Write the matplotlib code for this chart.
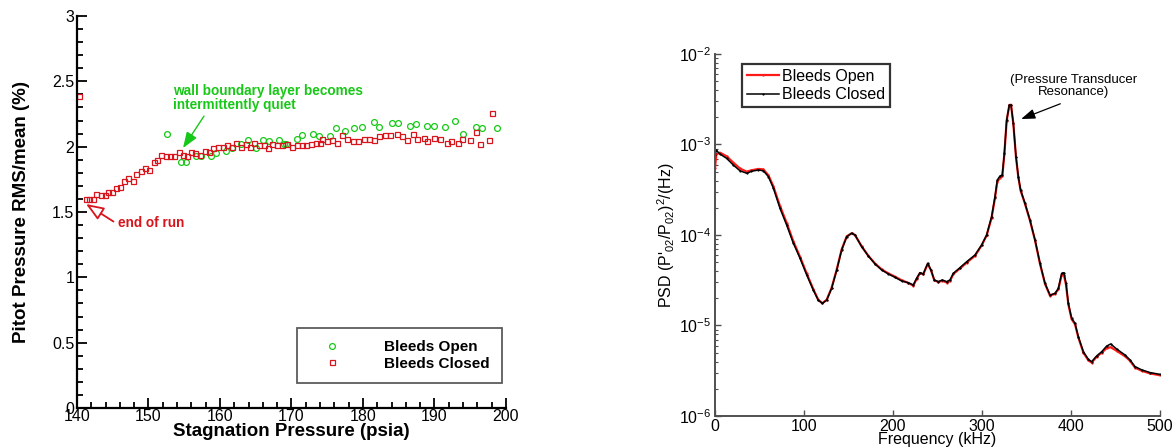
import numpy as np
import matplotlib
matplotlib.use("Agg")
import matplotlib.pyplot as plt
from matplotlib.ticker import MultipleLocator, FuncFormatter, LogLocator, NullFormatter

plt.rcParams['font.family'] = ['Liberation Sans', 'DejaVu Sans']
plt.rcParams['mathtext.fontset'] = 'custom'
plt.rcParams['mathtext.rm'] = 'Liberation Sans'
plt.rcParams['mathtext.it'] = 'Liberation Sans:italic'
plt.rcParams['mathtext.bf'] = 'Liberation Sans:bold'

# ---------------- Left chart data ----------------
closed_p = [140.3, 141.2, 141.7, 142.3, 142.7, 143.4, 143.9, 144.4, 144.9, 145.4, 146.0, 146.6,
            147.2, 147.8, 148.3, 148.9, 149.5, 150.1, 150.7, 151.2, 151.8, 152.4, 153.0, 153.6,
            154.2, 154.8, 155.4, 156.0, 156.5, 157.2, 157.9, 158.5, 159.0, 159.7, 160.4, 161.0,
            161.7, 162.3, 162.9, 163.6, 164.2, 164.8, 165.5, 166.1, 166.7, 167.3, 168.0, 168.7,
            169.4, 170.1, 170.7, 171.4, 172.0, 172.7, 173.4, 174.0, 174.3, 175.0, 175.7, 176.4,
            177.1, 177.7, 178.6, 179.3, 180.1, 180.8, 181.6, 182.3, 183.1, 183.8, 184.7, 185.5,
            186.2, 187.0, 187.6, 188.5, 189.0, 190.0, 190.7, 191.7, 192.3, 193.3, 193.9, 194.9,
            195.8, 196.4, 197.6, 198.0]
closed_rms = [2.39, 1.60, 1.60, 1.60, 1.64, 1.63, 1.63, 1.65, 1.65, 1.68, 1.69, 1.74,
              1.76, 1.74, 1.79, 1.81, 1.84, 1.82, 1.88, 1.90, 1.94, 1.93, 1.93, 1.93,
              1.96, 1.94, 1.93, 1.96, 1.95, 1.94, 1.97, 1.96, 1.99, 2.00, 2.00, 2.01,
              2.00, 2.03, 2.00, 2.02, 2.00, 2.03, 2.01, 2.01, 1.99, 2.02, 2.01, 2.01,
              2.02, 2.00, 2.01, 2.01, 2.01, 2.02, 2.03, 2.03, 2.06, 2.04, 2.05, 2.03,
              2.09, 2.06, 2.04, 2.04, 2.06, 2.06, 2.05, 2.08, 2.09, 2.09, 2.10, 2.08,
              2.05, 2.10, 2.06, 2.07, 2.04, 2.07, 2.06, 2.03, 2.04, 2.03, 2.06, 2.05,
              2.11, 2.02, 2.05, 2.26]

open_p = [152.6, 154.6, 155.2, 156.7, 157.3, 158.7, 159.5, 160.9, 161.7, 162.9, 163.9, 165.0,
          166.0, 166.9, 168.3, 169.0, 169.3, 170.7, 171.4, 173.0, 173.8, 175.4, 176.2, 177.5,
          178.7, 179.9, 181.5, 182.3, 184.1, 184.9, 186.6, 187.4, 189.0, 189.9, 191.5, 192.8,
          194.0, 195.8, 196.7, 198.7]
open_rms = [2.10, 1.88, 1.88, 1.93, 1.93, 1.93, 1.95, 1.97, 1.99, 2.02, 2.05, 1.99,
            2.05, 2.04, 2.05, 2.02, 2.02, 2.06, 2.09, 2.10, 2.08, 2.08, 2.14, 2.12,
            2.14, 2.15, 2.19, 2.15, 2.18, 2.18, 2.16, 2.17, 2.16, 2.16, 2.15, 2.20,
            2.10, 2.15, 2.14, 2.14]

# ---------------- Right chart data ----------------
freq_khz = [0, 1.5, 5.6, 13, 20.6, 28, 35.6, 41, 48.7, 54.3, 60, 65.5, 73, 80.5, 88, 95.5,
            103, 110.5, 116, 120.6, 125.5, 131, 136.7, 142.3, 148, 153.5, 157.3, 164.8,
            172.3, 179.8, 187.3, 194.8, 202.2, 209.7, 217.2, 222.8, 226.6, 230.3, 234, 239,
            242.7, 246.4, 250.9, 255.4, 260.3, 264, 267.8, 275.3, 282.8, 292.1, 299.6, 305.2,
            310.8, 314.6, 317.2, 320.2, 322.8, 325.1, 327.7, 330.7, 332.6, 335.2, 338.2, 340.8,
            343.4, 348.3, 353.9, 359.6, 365.2, 370.8, 376.4, 382, 385.8, 389.5, 392.1, 394.4,
            397, 400.7, 404.5, 408.2, 413.9, 419.5, 423.2, 428.8, 434.5, 440.1, 444.6, 451.3,
            460.7, 466.3, 471.9, 479.4, 488.8, 500]
closed_log10_psd = [-3.12, -3.065, -3.105, -3.153, -3.227, -3.29, -3.318, -3.296, -3.282, -3.29,
                    -3.355, -3.48, -3.705, -3.89, -4.09, -4.257, -4.44, -4.61, -4.72, -4.755,
                    -4.72, -4.59, -4.39, -4.166, -4.018, -3.981, -4.0, -4.129, -4.232, -4.32,
                    -4.387, -4.431, -4.468, -4.508, -4.527, -4.552, -4.478, -4.416, -4.43, -4.313,
                    -4.387, -4.497, -4.515, -4.497, -4.515, -4.497, -4.424, -4.36, -4.295, -4.221,
                    -4.11, -4.0, -3.797, -3.576, -3.392, -3.348, -3.337, -3.097, -2.729, -2.564,
                    -2.564, -2.766, -3.134, -3.355, -3.503, -3.65, -3.834, -4.055, -4.313, -4.534,
                    -4.663, -4.645, -4.59, -4.424, -4.416, -4.534, -4.755, -4.92, -4.976, -5.123,
                    -5.289, -5.374, -5.4, -5.337, -5.289, -5.227, -5.204, -5.26, -5.326, -5.38,
                    -5.454, -5.49, -5.52, -5.54]
open_log10_psd = [-3.26, -3.11, -3.09, -3.13, -3.20, -3.265, -3.30, -3.285, -3.27, -3.275,
                  -3.34, -3.46, -3.68, -3.865, -4.07, -4.24, -4.425, -4.60, -4.715, -4.755,
                  -4.715, -4.585, -4.385, -4.16, -4.015, -3.981, -4.0, -4.125, -4.23, -4.315,
                  -4.38, -4.425, -4.46, -4.50, -4.53, -4.56, -4.485, -4.42, -4.435, -4.32,
                  -4.39, -4.50, -4.52, -4.505, -4.525, -4.51, -4.43, -4.37, -4.305, -4.23,
                  -4.115, -4.005, -3.81, -3.59, -3.41, -3.37, -3.35, -3.11, -2.74, -2.565,
                  -2.56, -2.77, -3.14, -3.36, -3.51, -3.655, -3.84, -4.06, -4.32, -4.54,
                  -4.67, -4.65, -4.60, -4.44, -4.445, -4.55, -4.765, -4.93, -4.985, -5.13,
                  -5.30, -5.385, -5.41, -5.345, -5.30, -5.25, -5.24, -5.28, -5.34, -5.39,
                  -5.465, -5.50, -5.53, -5.55]

RED = '#d8141c'
GREEN = '#18c818'

fig = plt.figure(figsize=(11.72, 4.48), dpi=100)

# ================= Left chart =================
ax = fig.add_axes([77/1172, 40/448, 429/1172, 392/448])
ax.plot(open_p, open_rms, linestyle='none', marker='o', ms=4.2, mfc='none', mec=GREEN, mew=0.9,
        label='Bleeds Open')
ax.plot(closed_p, closed_rms, linestyle='none', marker='s', ms=3.6, mfc='none', mec=RED, mew=0.9,
        label='Bleeds Closed')
ax.set_xlim(140, 200)
ax.set_ylim(0, 3)
for s in ['top', 'right']:
    ax.spines[s].set_visible(False)
for s in ['left', 'bottom']:
    ax.spines[s].set_linewidth(1.6)
ax.xaxis.set_major_locator(MultipleLocator(10))
ax.xaxis.set_minor_locator(MultipleLocator(2))
ax.yaxis.set_major_locator(MultipleLocator(0.5))
ax.yaxis.set_minor_locator(MultipleLocator(0.1))
ax.yaxis.set_major_formatter(FuncFormatter(lambda v, p: '%g' % v))
ax.tick_params(which='both', direction='in', labelsize=11.5, width=1.3)
ax.tick_params(which='major', length=7.5)
ax.tick_params(which='minor', length=4.3)
ax.tick_params(axis='x', pad=1)
ax.tick_params(axis='y', pad=2)
ax.set_xlabel('Stagnation Pressure (psia)', fontsize=13.5, fontweight='bold', labelpad=-1)
ax.set_ylabel('Pitot Pressure RMS/mean (%)', fontsize=13.5, fontweight='bold', labelpad=16)

leg = ax.legend(loc='lower right', bbox_to_anchor=(0.9907, 0.064), borderaxespad=0,
                prop={'weight': 'bold', 'size': 11}, frameon=True, fancybox=False,
                handlelength=3.0, handletextpad=1.9, borderpad=0.8, labelspacing=0.15)
leg.get_frame().set_edgecolor('#333333')
leg.get_frame().set_linewidth(1.3)

ax.text(153.4, 2.37, 'wall boundary layer becomes\nintermittently quiet', color=GREEN,
        fontsize=9.8, fontweight='bold', ha='left', va='center', linespacing=1.0)
ax.annotate('', xy=(154.83, 1.99), xytext=(157.76, 2.234),
            arrowprops=dict(arrowstyle='-|>,head_length=0.8,head_width=0.3', color=GREEN,
                            lw=1.0, mutation_scale=12, shrinkA=0, shrinkB=0))
ax.text(145.73, 1.416, 'end of run', color=RED, fontsize=9.8, fontweight='bold',
        ha='left', va='center')
ax.annotate('', xy=(141.26, 1.561), xytext=(145.1, 1.427),
            arrowprops=dict(arrowstyle='-|>,head_length=0.9,head_width=0.35', ec=RED,
                            fc='white', lw=1.3, mutation_scale=12, shrinkA=0, shrinkB=0))

# ================= Right chart =================
GRAY = '#505050'
bx = fig.add_axes([715/1172, 32/448, 445/1172, 362/448])
bx.plot(freq_khz, 10 ** np.array(open_log10_psd), color='#ff1a1a', lw=1.6,
        marker='.', ms=1.2, label='Bleeds Open')
bx.plot(freq_khz, 10 ** np.array(closed_log10_psd), color='black', lw=1.1,
        marker='.', ms=1.2, label='Bleeds Closed')
bx.set_yscale('log')
bx.set_xlim(0, 500)
bx.set_ylim(1e-6, 1e-2)
for s in ['top', 'right']:
    bx.spines[s].set_visible(False)
for s in ['left', 'bottom']:
    bx.spines[s].set_linewidth(1.4)
    bx.spines[s].set_color(GRAY)
bx.xaxis.set_major_locator(MultipleLocator(100))
bx.yaxis.set_major_locator(LogLocator(base=10, numticks=10))
bx.yaxis.set_minor_locator(LogLocator(base=10, subs=np.arange(2, 10), numticks=20))
bx.yaxis.set_minor_formatter(NullFormatter())
bx.tick_params(which='both', direction='in', labelsize=11.5, color=GRAY)
bx.tick_params(which='major', length=4, width=1.0)
bx.tick_params(which='minor', length=2.2, width=0.8)
bx.tick_params(axis='y', pad=3)
bx.tick_params(axis='x', pad=2)
bx.set_xlabel('Frequency (kHz)', fontsize=11.5, labelpad=-1)
bx.set_ylabel("PSD (P'$_{02}$/P$_{02}$)$^{2}$/(Hz)", fontsize=11.5, labelpad=1)

leg2 = bx.legend(loc='upper left', bbox_to_anchor=(0.061, 0.972), borderaxespad=0,
                 prop={'size': 11.5}, frameon=True, fancybox=False,
                 handlelength=2.0, handletextpad=0.2, borderpad=0.3, labelspacing=0.2)
leg2.get_frame().set_edgecolor('black')
leg2.get_frame().set_linewidth(1.6)

bx.text(403, 10 ** -2.354, '(Pressure Transducer\nResonance)', fontsize=9.5,
        ha='center', va='center', linespacing=1.05)
bx.annotate('', xy=(344, 10 ** -2.718), xytext=(388, 10 ** -2.55),
            arrowprops=dict(arrowstyle='-|>,head_length=0.7,head_width=0.25', color='black',
                            lw=0.9, mutation_scale=12, shrinkA=0, shrinkB=0))

fig.savefig('out.png', dpi=100)
